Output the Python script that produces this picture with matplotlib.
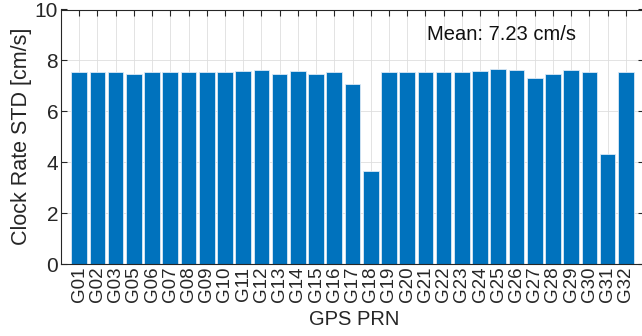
import numpy as np
import matplotlib.pyplot as plt

plt.rcParams['font.family'] = ['Liberation Sans', 'DejaVu Sans']

# GPS satellites (no G04) and their clock rate standard deviation in cm/s
prns = ['G01', 'G02', 'G03', 'G05', 'G06', 'G07', 'G08', 'G09', 'G10', 'G11',
        'G12', 'G13', 'G14', 'G15', 'G16', 'G17', 'G18', 'G19', 'G20', 'G21',
        'G22', 'G23', 'G24', 'G25', 'G26', 'G27', 'G28', 'G29', 'G30', 'G31', 'G32']
clockStd = [7.55, 7.55, 7.55, 7.46, 7.55, 7.55, 7.53, 7.55, 7.55, 7.59,
            7.63, 7.46, 7.59, 7.46, 7.54, 7.06, 3.66, 7.55, 7.55, 7.55,
            7.55, 7.55, 7.59, 7.67, 7.62, 7.29, 7.46, 7.62, 7.53, 4.34, 7.55]
meanText = 'Mean: 7.23 cm/s'

fig = plt.figure(figsize=(6.42, 3.36), dpi=100)
ax = fig.add_axes([61 / 642, 72 / 336, 583 / 642, 254.5 / 336])

pos = np.arange(1, len(prns) + 1)
ax.bar(pos, clockStd, width=0.86, color='#0072BD', edgecolor='#dbe9f5',
       linewidth=0.6, zorder=2)

ax.set_xlim(0, 32)
ax.set_ylim(0, 10)
ax.set_xticks(pos)
ax.set_xticklabels(prns, rotation=90, fontsize=13.5)
ax.set_yticks([0, 2, 4, 6, 8, 10])
ax.tick_params(axis='y', labelsize=15)
ax.tick_params(direction='in', length=4, width=0.8, top=True, right=True,
               color='#262626', labelcolor='#262626', pad=2)
ax.grid(True, color='#dedede', linewidth=0.6, zorder=0)
ax.set_axisbelow(True)
for s in ax.spines.values():
    s.set_color('#262626')
    s.set_linewidth(0.8)

ax.set_ylabel('Clock Rate STD [cm/s]', fontsize=15.5, color='#262626', labelpad=2)
ax.set_xlabel('GPS PRN', fontsize=14.5, color='#262626', va='center')
ax.xaxis.set_label_coords((354 - 61) / 583, -0.218)
ax.text(24.2, 9.0, meanText, fontsize=14.5, ha='center', va='center',
        color='#111111')

plt.savefig('out.png', dpi=100)
